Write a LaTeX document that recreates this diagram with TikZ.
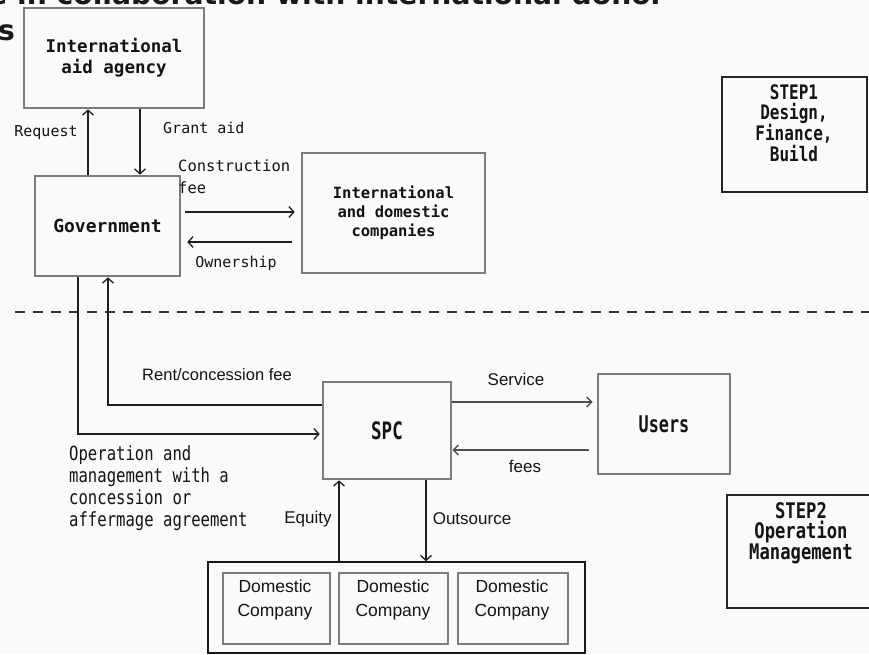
\documentclass[tikz,border=0pt]{standalone}
\usepackage{fontspec}
\usetikzlibrary{arrows.meta}
\newfontfamily\gmono{DejaVu Sans Mono}
\newfontfamily\gmonoN[FakeStretch=0.80]{DejaVu Sans Mono}
\newfontfamily\gmonoS[FakeStretch=0.73]{DejaVu Sans Mono}
\newfontfamily\gsans{Liberation Sans}
\newfontfamily\gtitle{DejaVu Sans}
\definecolor{bgc}{HTML}{FAFAFA}
\definecolor{boxgray}{HTML}{7C7C7C}
\definecolor{linec}{HTML}{1E1E1E}
\definecolor{lgray}{HTML}{505050}
\definecolor{txt}{HTML}{141414}
\tikzset{
  graybox/.style={draw=boxgray, line width=2.6pt, inner sep=0pt, text=txt, align=center},
  stepbox/.style={draw=black!85, line width=1.6pt, inner sep=0pt},
  outerbox/.style={draw=black!90, line width=1.5pt, inner sep=0pt},
  arr/.style={draw=linec, line width=1.3pt, -{Straight Barb[length=5pt,width=11pt,line width=1.3pt]}},
  garr/.style={draw=lgray, line width=1.6pt, -{Straight Barb[length=5pt,width=10pt,line width=1.4pt]}},
  lbl/.style={inner sep=0pt, text=txt, font=\gmono\fontsize{15}{18}\selectfont},
  slbl/.style={inner sep=0pt, text=txt, font=\gsans\fontsize{16.5}{20}\selectfont},
  domtxt/.style={inner sep=0pt, text=txt, align=center, font=\gsans\fontsize{17.5}{24}\selectfont},
  steptxt/.style={inner sep=0pt, text=txt, align=center, anchor=north},
  titletxt/.style={inner sep=0pt, text=black!90, font=\gtitle\bfseries\fontsize{28.2}{34}\selectfont},
  dashline/.style={draw=black!80, line width=2.6pt, dash pattern=on 10pt off 8pt}
}
\begin{document}
\begin{tikzpicture}[x=1pt,y=-1pt]
\useasboundingbox (0,0) rectangle (869,654);
\clip (0,0) rectangle (869,654);
\fill[bgc] (0,0) rectangle (869,654);

% cut-off title (as in the reference, only its lower part is on the page)
\node[titletxt, anchor=base west] (title1) at (-12,4.5) {e in collaboration with international donor};
\node[titletxt, anchor=base east] (title2) at (15,40) {s};

% boxes
\node[graybox, minimum width=180pt, minimum height=100pt, font=\gmono\bfseries\fontsize{17.5}{21}\selectfont] (agency) at (114,58) {International\\aid agency};
\node[graybox, minimum width=145pt, minimum height=100pt, font=\gmono\bfseries\fontsize{18}{21}\selectfont] (gov) at (107.5,226) {Government};
\node[graybox, minimum width=183pt, minimum height=120pt, font=\gmono\bfseries\fontsize{15.5}{19}\selectfont] (comp) at (393.5,213) {International\\and domestic\\companies};
\node[graybox, minimum width=128pt, minimum height=97pt, font=\gmonoS\bfseries\fontsize{24}{26}\selectfont] (spc) at (387,430.5) {SPC};
\node[graybox, minimum width=132pt, minimum height=100pt, font=\gmonoS\bfseries\fontsize{23}{26}\selectfont] (users) at (664,424) {Users};

\node[stepbox, minimum width=145pt, minimum height=115pt] (step1) at (794.5,134.5) {};
\node[steptxt, font=\gmonoN\bfseries\fontsize{20}{20.3}\selectfont] (step1t) at (794,84) {STEP1\\Design,\\Finance,\\Build};
\node[stepbox, minimum width=148pt, minimum height=113pt] (step2) at (801,551.5) {};
\node[steptxt, font=\gmonoN\bfseries\fontsize{21.5}{20.5}\selectfont] (step2t) at (801,502) {STEP2\\Operation\\Management};

\node[outerbox, minimum width=377pt, minimum height=91pt] (outer) at (396.5,607.5) {};
\node[graybox, minimum width=107pt, minimum height=71pt] (d1) at (276.5,608.5) {};
\node[graybox, minimum width=109pt, minimum height=71pt] (d2) at (393.5,608.5) {};
\node[graybox, minimum width=110pt, minimum height=71pt] (d3) at (513,608.5) {};
\node[domtxt] (d1t) at (275,600) {Domestic\\Company};
\node[domtxt] (d2t) at (393,600) {Domestic\\Company};
\node[domtxt] (d3t) at (512,600) {Domestic\\Company};

% dashed separator
\coordinate (dl) at (15,312);
\coordinate (dr) at (875,312);
\draw[dashline] (dl) -- (dr);

% helper coordinates
\coordinate (xreq) at (88,0);
\coordinate (xgrant) at (140,0);
\coordinate (ycf) at (0,212);
\coordinate (yown) at (0,242);
\coordinate (xrent) at (108,0);
\coordinate (yrent) at (0,405);
\coordinate (xop) at (78,0);
\coordinate (yop) at (0,434);
\coordinate (ysvc) at (0,402);
\coordinate (yfee) at (0,450);
\coordinate (xeq) at (339,0);
\coordinate (xout) at (426,0);

% connectors
\draw[arr] (gov.north -| xreq) -- (agency.south -| xreq);
\draw[arr] (agency.south -| xgrant) -- (gov.north -| xgrant);
\draw[arr, shorten <=4pt, shorten >=6pt] (gov.east |- ycf) -- (comp.west |- ycf);
\draw[arr, shorten <=9pt, shorten >=6pt] (comp.west |- yown) -- (gov.east |- yown);
\draw[arr] (spc.west |- yrent) -| (gov.south -| xrent);
\draw[arr, shorten >=2pt] (gov.south -| xop) |- (spc.west |- yop);
\draw[garr, shorten >=4pt] (spc.east |- ysvc) -- (users.west |- ysvc);
\draw[garr, shorten <=8pt] (users.west |- yfee) -- (spc.east |- yfee);
\draw[arr] (outer.north -| xeq) -- (spc.south -| xeq);
\draw[arr] (spc.south -| xout) -- (outer.north -| xout);

% labels
\node[lbl] (lreq) at (46,133) {Request};
\node[lbl, anchor=west] (lgrant) at (163,128) {Grant aid};
\node[lbl, anchor=north west, align=left, font=\gmono\fontsize{15.5}{22}\selectfont] (lcf) at (178,160) {Construction\\fee};
\node[lbl] (lown) at (236,263) {Ownership};
\node[slbl] (lrent) at (217,375) {Rent/concession fee};
\node[lbl, anchor=north west, align=left, font=\gmonoN\fontsize{19.5}{22}\selectfont] (lop) at (69,445) {Operation and\\management with a\\concession or\\affermage agreement};
\node[slbl, font=\gsans\fontsize{17}{20}\selectfont] (lsvc) at (516,379) {Service};
\node[slbl, font=\gsans\fontsize{17}{20}\selectfont] (lfee) at (525,466) {fees};
\node[slbl, font=\gsans\fontsize{17}{20}\selectfont] (leq) at (308,519) {Equity};
\node[slbl, font=\gsans\fontsize{17}{20}\selectfont] (lout) at (472,519) {Outsource};
\end{tikzpicture}
\end{document}
